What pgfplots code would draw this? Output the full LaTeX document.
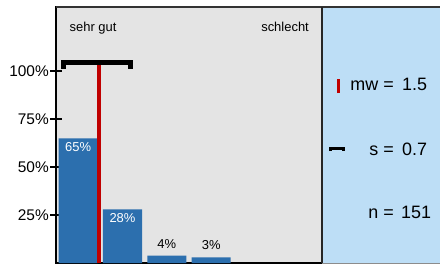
\documentclass[border=0pt]{standalone}
\usepackage{pgfplots}
\pgfplotsset{compat=1.18}
\usepackage{fontspec}
\setmainfont{Liberation Sans}
\definecolor{bgray}{RGB}{228,228,228}
\definecolor{barblue}{RGB}{44,111,174}
\definecolor{panelblue}{RGB}{189,222,246}
\definecolor{mred}{RGB}{192,0,0}
\begin{document}
\begin{tikzpicture}[x=1bp,y=1bp]
\useasboundingbox (0,0) rectangle (440,264);
\fill[panelblue] (322,0.8) rectangle (440,257);
\begin{axis}[
  at={(56bp,0.8bp)}, anchor=south west,
  scale only axis, width=266bp, height=256.2bp,
  xmin=0.5, xmax=6.5, ymin=0, ymax=133.33,
  axis background/.style={fill=bgray},
  xtick=\empty,
  ytick={25,50,75,100},
  yticklabels={25\%,50\%,75\%,100\%},
  ytick pos=left,
  tick align=center, major tick length=12bp,
  tick style={black, line width=1.5bp},
  yticklabel style={font=\fontsize{15.5}{18}\selectfont, inner sep=0pt, anchor=east, xshift=-1bp},
  axis line style={black, line width=1.5bp},
  /pgf/number format/assume math mode=true,
  clip=false,
]
\addplot[ybar, bar shift=0pt, bar width=0.88, fill=barblue, draw=none,
  nodes near coords={\pgfmathprintnumber{\pgfplotspointmeta}\%},
  nodes near coords style={white, anchor=base, yshift=-13.3bp, font=\fontsize{13}{15}\selectfont}]
  coordinates {(1,65) (2,28)};
\addplot[ybar, bar shift=0pt, bar width=0.88, fill=barblue, draw=none,
  nodes near coords={\pgfmathprintnumber{\pgfplotspointmeta}\%},
  nodes near coords style={black, anchor=base, yshift=7.5bp, font=\fontsize{13}{15}\selectfont}]
  coordinates {(3,4) (4,3)};
\addplot[mred, line width=3.5bp] coordinates {(1.47,0) (1.47,103)};
\addplot[black, line width=5bp, line cap=butt, line join=miter] coordinates {(0.67,101) (0.67,104.3) (2.18,104.3) (2.18,101)};
\end{axis}
\draw[black!80, line width=1.3bp] (56,257) -- (440,257);
\draw[black!45, line width=1bp] (322,0.8) -- (440,0.8);
\draw[black!85, line width=2.2bp] (322,0.8) -- (322,257);
\node[anchor=base west, inner sep=0pt, font=\fontsize{13}{15}\selectfont] at (69.5,232.5) {sehr gut};
\node[anchor=base east, inner sep=0pt, font=\fontsize{13}{15}\selectfont] at (309,232.5) {schlecht};
\draw[mred, line width=3bp] (338,171) -- (338,185);
\draw[black, line width=2.5bp] (330.5,113) -- (330.5,115.5) -- (343.5,115.5) -- (343.5,113);
\node[anchor=base east, inner sep=0pt, font=\fontsize{18}{21}\selectfont] at (394,173.3) {mw =};
\node[anchor=base west, inner sep=0pt, font=\fontsize{18}{21}\selectfont] at (402,173.3) {1.5};
\node[anchor=base east, inner sep=0pt, font=\fontsize{18}{21}\selectfont] at (394,108.7) {s =};
\node[anchor=base west, inner sep=0pt, font=\fontsize{18}{21}\selectfont] at (402,108.7) {0.7};
\node[anchor=base east, inner sep=0pt, font=\fontsize{18}{21}\selectfont] at (394,45.3) {n =};
\node[anchor=base west, inner sep=0pt, font=\fontsize{18}{21}\selectfont] at (401,45.3) {151};
\end{tikzpicture}
\end{document}
